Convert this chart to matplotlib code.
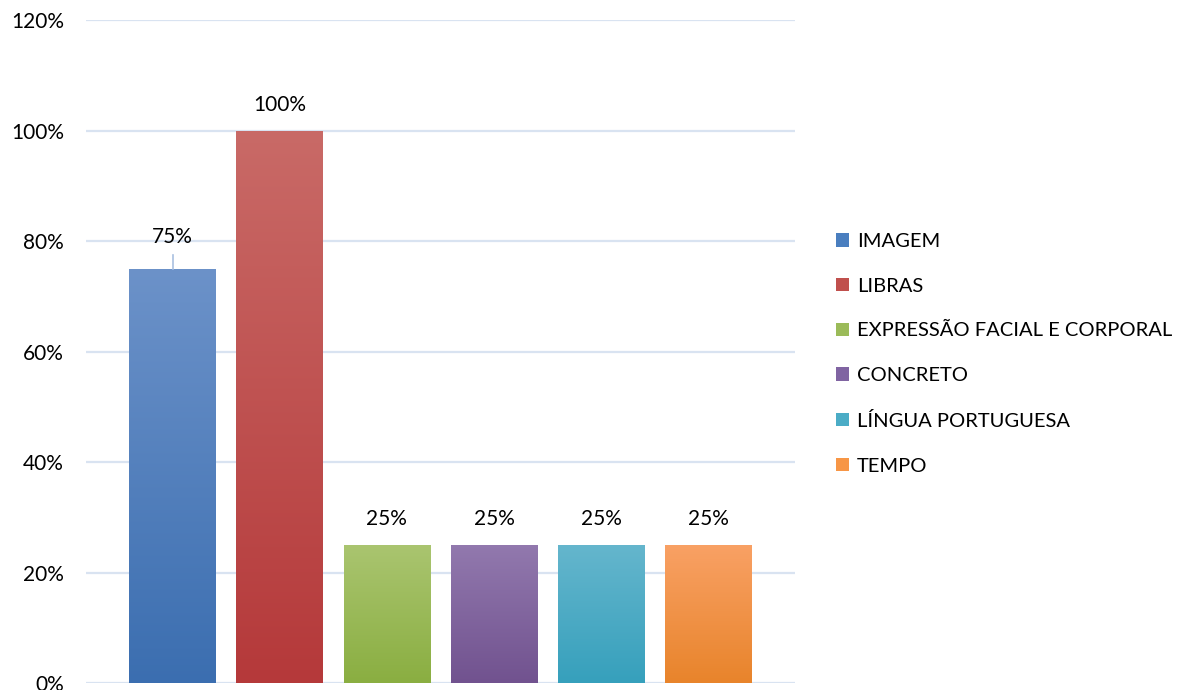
import numpy as np
import matplotlib.pyplot as plt
from matplotlib.colors import LinearSegmentedColormap
from matplotlib.ticker import PercentFormatter

categorias = ["IMAGEM", "LIBRAS", "EXPRESSÃO FACIAL E CORPORAL", "CONCRETO",
              "LÍNGUA PORTUGUESA", "TEMPO"]
valores = [0.75, 1.00, 0.25, 0.25, 0.25, 0.25]
rotulos = ["75%", "100%", "25%", "25%", "25%", "25%"]

# cor do topo e da base de cada barra (degradê vertical)
cores_topo = ["#6c92c9", "#c96a67", "#aac570", "#9279ae", "#65b6cd", "#f9a165"]
cores_base = ["#3b6eb0", "#b5393a", "#8aae41", "#71528f", "#36a0bc", "#e8842b"]
cores_meio = ["#4a7ebf", "#c0504d", "#9bbb59", "#8064a2", "#4bacc6", "#f79646"]

plt.rcParams['font.family'] = ['Lato', 'DejaVu Sans']

fig = plt.figure(figsize=(11.85, 6.90), dpi=100)
ax = fig.add_axes([0.0726, 0.0101, 0.5983, 0.9609])

x = np.arange(len(categorias))
barras = ax.bar(x, valores, width=0.81, color=cores_meio, label=categorias, zorder=2)

# degradê dentro de cada barra
grad = np.linspace(1, 0, 256).reshape(-1, 1)
for b, c1, c2 in zip(barras, cores_topo, cores_base):
    cmap = LinearSegmentedColormap.from_list("g", [c2, c1])
    x0, y0 = b.get_x(), b.get_y()
    im = ax.imshow(grad, cmap=cmap, aspect='auto', zorder=3,
                   extent=[x0, x0 + b.get_width(), y0, y0 + b.get_height()])
    im.set_clip_path(b)

ax.set_ylim(0, 1.2)
ax.set_yticks(np.arange(0, 1.21, 0.2))
ax.yaxis.set_major_formatter(PercentFormatter(1.0, decimals=0))
ax.set_xticks([])
ax.tick_params(axis='y', length=0, pad=16, labelsize=15)
ax.grid(axis='y', color='#d9e3f1', linewidth=1.6, zorder=0)
for s in ax.spines.values():
    s.set_visible(False)

# rótulos de valor
for xi, v, r in zip(x, valores, rotulos):
    desloc = 0.058 if v == 0.75 else 0.046
    ax.text(xi, v + desloc, r, ha='center', va='center', fontsize=15, zorder=4)
    if v == 0.75:
        ax.plot([xi, xi], [v, v + 0.025], color='#a9c0e0', linewidth=1.2, zorder=4)

ax.set_xlim(-0.807, len(categorias) - 1 + 0.807)

leg = fig.legend(handles=barras, labels=categorias, loc='upper left',
                 bbox_to_anchor=(0.699, 0.674), frameon=False, fontsize=14.5,
                 handlelength=0.65, handleheight=0.65, handletextpad=0.38,
                 labelspacing=1.375, borderaxespad=0)

fig.savefig("out.png", dpi=100)
